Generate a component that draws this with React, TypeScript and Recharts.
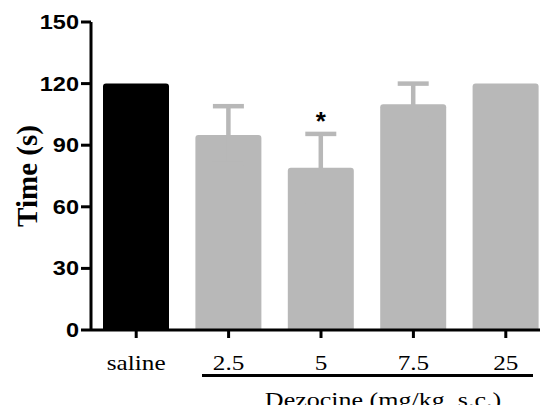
import { BarChart, Bar, XAxis, YAxis, ErrorBar, LabelList, Cell } from "recharts";

// Dezocine test, time (s) per group, mean + SEM
const groups = ["saline", "2.5", "5", "7.5", "25"];
const timeMean = [120, 95, 79, 110, 120];
const timeSem: (number | null)[] = [null, 14, 16.5, 10, null];
const marks = ["", "", "*", "", ""];
const yTicks = [0, 30, 60, 90, 120, 150];

const GRAY = "#b8b8b8";
const barColors = ["#000000", GRAY, GRAY, GRAY, GRAY];
const SERIF = "'Liberation Serif', 'Times New Roman', serif";
const SANS = "'Liberation Sans', Arial, sans-serif";

const data = groups.map((g, i) => ({
  group: g,
  time: timeMean[i],
  sem: timeSem[i],
  mark: marks[i],
}));

function YTick(props: any) {
  const { x, y, payload } = props;
  return (
    <text
      transform={`translate(${x},${y + 7}) scale(1.12,1)`}
      textAnchor="end"
      style={{ fontFamily: SANS, fontWeight: "bold", fontSize: 21 }}
      fill="#000"
    >
      {payload.value}
    </text>
  );
}

function XTick(props: any) {
  const { x, payload } = props;
  return (
    <text
      transform={`translate(${x},370) scale(1.2,1)`}
      textAnchor="middle"
      style={{ fontFamily: SERIF, fontSize: 21, fontWeight: "normal" }}
      fill="#000"
    >
      {payload.value}
    </text>
  );
}

function StarLabel(props: any) {
  const { x, y, width, height, value, index } = props;
  if (!value) return null;
  const perUnit = height / timeMean[index];
  const capY = y - (timeSem[index] ?? 0) * perUnit;
  return (
    <text
      x={x + width / 2}
      y={capY - 4}
      textAnchor="middle"
      style={{ fontFamily: SANS, fontWeight: "bold", fontSize: 26 }}
      fill="#000"
    >
      {value}
    </text>
  );
}

function TimeLabel(props: any) {
  const { viewBox } = props;
  const cy = viewBox.y + viewBox.height / 2;
  return (
    <text
      transform={`translate(37,${cy}) rotate(-90)`}
      textAnchor="middle"
      style={{ fontFamily: SERIF, fontWeight: "bold", fontSize: 29 }}
      fill="#000"
    >
      Time (s)
    </text>
  );
}

function DoseLabel() {
  return (
    <g>
      <line x1={202} x2={533} y1={375.5} y2={375.5} stroke="#000" strokeWidth={3} />
      <text
        transform="translate(383,407) scale(1.24,1)"
        textAnchor="middle"
        style={{ fontFamily: SERIF, fontSize: 21, fontWeight: "normal" }}
        fill="#000"
      >
        Dezocine (mg/kg, s.c.)
      </text>
    </g>
  );
}

export default function App() {
  return (
    <div style={{ margin: -8, width: 548, height: 413, background: "#fff" }}>
      <BarChart
        width={548}
        height={413}
        data={data}
        margin={{ top: 22, right: 3, left: 0, bottom: 0 }}
      >
        <XAxis
          dataKey="group"
          height={83}
          padding={{ left: -1, right: -7 }}
          axisLine={{ stroke: "#000", strokeWidth: 3 }}
          tickLine={{ stroke: "#000", strokeWidth: 3 }}
          tickSize={8}
          tick={XTick}
          interval={0}
          label={DoseLabel}
        />
        <YAxis
          width={91}
          domain={[0, 150]}
          ticks={yTicks}
          interval={0}
          axisLine={{ stroke: "#000", strokeWidth: 3 }}
          tickLine={{ stroke: "#000", strokeWidth: 3 }}
          tickSize={10}
          tick={YTick}
          label={TimeLabel}
        />
        <Bar dataKey="time" barSize={66} radius={[3, 3, 0, 0]} isAnimationActive={false}>
          {data.map((d, i) => (
            <Cell key={d.group} fill={barColors[i]} />
          ))}
          <ErrorBar dataKey="sem" width={15.5} strokeWidth={4.5} stroke={GRAY} isAnimationActive={false} />
          <LabelList dataKey="mark" content={StarLabel} />
        </Bar>
      </BarChart>
    </div>
  );
}
